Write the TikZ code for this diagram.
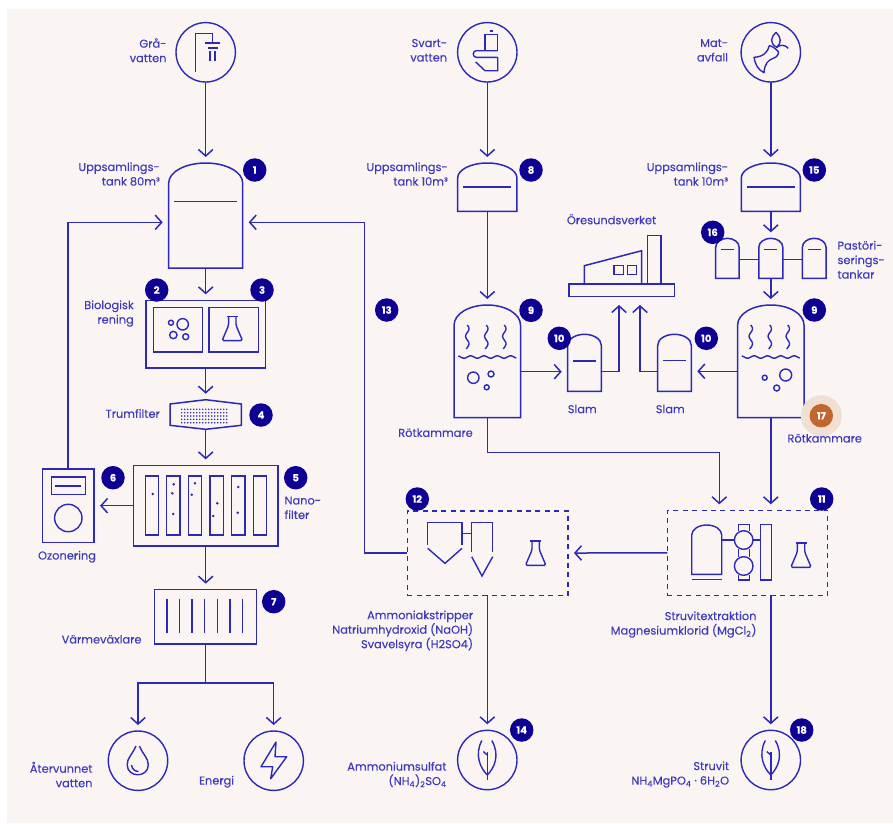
\documentclass[tikz,border=0pt]{standalone}
\usepackage{fontspec}
\setmainfont{Poppins}[FakeBold=0.12]
\usetikzlibrary{arrows.meta,positioning,calc}
\definecolor{MainLine}{RGB}{44,40,184}
\definecolor{MainText}{RGB}{62,58,188}
\definecolor{Navy}{RGB}{14,0,146}
\definecolor{Rust}{RGB}{193,102,46}
\definecolor{RustPale}{RGB}{240,223,211}
\definecolor{Paper}{RGB}{250,245,243}
\tikzset{
  unit/.style={draw=MainLine,line width=1.5pt,inner sep=0,outer sep=0},
  hold/.style={inner sep=0,outer sep=0},
  ring/.style={unit,circle,minimum size=59.4pt,line width=1.4pt},
  dashbox/.style={unit,dash pattern=on 5pt off 4.4pt},
  link/.style={draw=MainLine,line width=1.5pt},
  flow/.style={link,-{Straight Barb[length=6.5pt,width=14.5pt,line width=1.5pt]},shorten >=6pt},
  icon/.style={draw=MainLine,line width=1.4pt},
  badge/.style={circle,fill=Navy,text=white,minimum size=23.5pt,inner sep=0,
    font=\fontsize{10}{10}\selectfont\bfseries},
  lbl/.style={text=MainText,inner sep=0,font=\fontsize{11.4}{14.5}\selectfont},
  lblr/.style={lbl,anchor=east,align=right},
  lbll/.style={lbl,anchor=west,align=left},
  flask/.pic={
    \draw[icon,line join=round] (-5.5,-12) -- (5.5,-12);
    \draw[icon,line join=round,rounded corners=1.5pt] (-3.7,-12) -- (-3.7,-3) -- (-10.2,12.3) -- (10.2,12.3) -- (3.7,-3) -- (3.7,-12);
  },
  leaf/.pic={
    \draw[icon] (0,-8) -- (0,20);
    \draw[icon] (-5.5,-19.5) .. controls (-13,-5) and (-7,8) .. (0,15);
    \draw[icon] (4.5,-19.5) .. controls (13,-5) and (7,8) .. (0,15);
    \draw[icon] (-4,-8.5) -- (0,-5);
  },
}
% name, centre x, top, width, height, dome, level y (in from the top)
\newcommand{\tank}[7]{
  \node[hold,minimum width=#4pt,minimum height=#5pt] (#1) at (#2,{#3+#5/2}) {};
  \draw[icon,line width=1.5pt] ($(#1.north west)+(0,#6)$) arc[start angle=180,end angle=360,x radius={#4/2},y radius=#6]
    -- (#1.south east) -- (#1.south west) -- cycle;
  \draw[icon] ($(#1.north west)+(5.5,#7)$) -- ($(#1.north east)+(-5.5,#7)$);
}
% name, centre x, top
\newcommand{\digester}[3]{
  \node[hold,minimum width=66.4pt,minimum height=112.5pt] (#1) at (#2,{#3+56.25}) {};
  \draw[icon,line width=1.5pt] ($(#1.north west)+(0,20)$) arc[start angle=180,end angle=360,x radius=33.2,y radius=20]
    -- (#1.south east) -- (#1.south west) -- cycle;
  \foreach \wx in {-20,-1,17}
    \draw[icon,domain=0:24,samples=25,smooth] plot ({#2+\wx+1.7*sin(\x*24)},{#3+20+\x});
  \draw[icon,domain=-29:29,samples=50,smooth] plot ({#2+\x},{#3+52+1.2*sin(\x*27)});
}
\begin{document}
\begin{tikzpicture}[x=1pt,y=-1pt]
  \useasboundingbox (0,0) rectangle (893,823);
  \fill[white] (0,0) rectangle (893,823);
  \fill[Paper] (7,9) rectangle (893,823);

  % left column
  \node[ring] (grey) at (205.7,52.3) {};
  \draw[icon] (195.7,71.7) -- (195.7,33.3) -- (212.7,33.3) -- (212.7,42.7);
  \draw[icon,line width=1.6pt] (205,42.7) -- (220.3,42.7);
  \draw[icon,line width=1.6pt] (207.5,48) -- (217.5,48);
  \draw[icon] (210,51) -- (210,61) (215,51) -- (215,61);
  \tank{collect}{205.7}{163}{74}{105}{20}{38.7}
  \coordinate (collectL) at (168.7,222.3);
  \coordinate (collectR) at (242.7,222.3);

  \node[unit,minimum width=119.7pt,minimum height=67.7pt] (bio) at (205.7,334.2) {};
  \node[unit,minimum width=49pt,minimum height=44.7pt] (bioA) at (178.2,329.7) {};
  \node[unit,minimum width=49.3pt,minimum height=44.7pt] (bioB) at (233.6,329.7) {};
  \draw[icon] (182.7,324.3) circle (5.7) (171,322.7) circle (2.5) (173.3,335) circle (3.7) (185.7,336.7) circle (3);
  \pic at (232.3,328.3) {flask};

  \node[hold,minimum width=71.3pt,minimum height=29.6pt] (drum) at (205.7,414.5) {};
  \draw[icon,line width=1.5pt] (170,404) -- (205.7,399.7) -- (241.3,404) -- (241.3,425.3) -- (205.7,429.3) -- (170,425.3) -- cycle;
  \foreach \i in {0,...,15}
    \foreach \j in {0,...,4}
      \fill[MainLine] ({181.7+\i*3},{409.3+\j*3.35}) circle (0.85);

  \node[unit,minimum width=144.6pt,minimum height=80.7pt] (nano) at (205.7,505.7) {};
  \foreach \sx in {145.3,166.7,188.3,210,231.7,253.3}
    \draw[icon] (\sx,476) rectangle ++(13.3,59);
  \foreach \dx/\dy in {152.7/494,173.7/484.3,172.3/493.3,173.3/514,195/483.3,191.7/494.7,217.3/503.3,213.3/516,238.3/487,237.7/512.7}
    \fill[MainLine] (\dx,\dy) circle (1.4);

  \node[unit,minimum width=51.7pt,minimum height=73.7pt] (ozone) at (68.2,505.7) {};
  \draw[icon] (51.3,477) rectangle (85.3,494.7);
  \draw[icon] (55,486) -- (80.7,486);
  \draw[icon] (68.3,518) circle (13.7);

  \node[unit,minimum width=102pt,minimum height=54.3pt] (heat) at (205.7,616.8) {};
  \foreach \hx in {167,179.7,192,204.7,217.3,230,242.7}
    \draw[icon] (\hx,599.3) -- (\hx,633.3);
  \coordinate (heatSplit) at (205.7,683);

  \node[ring] (water) at (138,760.7) {};
  \draw[icon] (136,746) .. controls (132,755) and (127,758) .. (127.2,765) .. controls (127.5,778) and (148,778) .. (148.3,765) .. controls (148.5,758) and (143,755) .. (139.5,746);
  \draw[icon] (131.5,765) .. controls (132,769) and (135,771.5) .. (138.5,771.5);
  \node[ring] (energy) at (273.7,760.7) {};
  \draw[icon,line join=round] (276,742) -- (261,766.7) -- (272.7,766.7) -- (270.7,778.7) -- (286.7,756.7) -- (275,756.7) -- cycle;

  % middle column
  \node[ring] (black) at (487.3,52.3) {};
  \draw[icon] (485,50.7) -- (485,34.3) -- (497.7,34.3) -- (497.7,50.7);
  \draw[icon] (489.5,31) -- (493.3,31);
  \draw[icon,rounded corners=3pt] (497.7,50.7) -- (473.3,50.7) -- (473.3,57.3) -- (497.7,57.3);
  \draw[icon] (497.7,57.3) -- (497.7,70.7) -- (485,70.7) -- (475.7,62);
  \tank{collectB}{487.3}{163}{59.3}{48.3}{15}{24}
  \digester{digestB}{487.3}{305}
  \draw[icon] (473.3,377.7) circle (5.7) (491,374) circle (3) (486.7,387.3) circle (2.5);
  \tank{sludgeB}{584.5}{334.3}{33.6}{57}{11}{26.7}
  \coordinate (digestBout) at (520.5,371.7);
  \coordinate (sludgeBin) at (567.7,371.7);
  \coordinate (sludgeBout) at (601.3,371.7);

  \node[unit,minimum width=105.3pt,minimum height=12.7pt] (plant) at (621.7,290.3) {};
  \draw[icon,line width=1.5pt] (584.3,284) -- (584.3,265.7) -- (641.7,250.7) -- (641.7,284);
  \draw[icon] (614,265.7) rectangle (623.3,274.7) (627.3,265.7) rectangle (636.7,274.7);
  \draw[icon,line width=1.5pt] (647.3,284) -- (647.3,235.3) -- (661,235.3) -- (661,284);
  \coordinate (plantL) at (619,299);
  \coordinate (plantR) at (640,299);

  % right column
  \node[ring] (food) at (770.8,52.3) {};
  \draw[icon,line join=round] (769.3,45.7) .. controls (768,52) and (763,57) .. (754,57.3) .. controls (755,64) and (758,70) .. (764,72.7) .. controls (764.5,64) and (768,60) .. (773.3,58.3) .. controls (777,57) and (779,54) .. (778.3,51.7) .. controls (775,48) and (772,46) .. cycle;
  \draw[icon] (776,32.3) .. controls (771,37) and (769,43) .. (776.7,47.3) .. controls (782,43) and (781,37) .. (776,32.3);
  \draw[icon] (776.7,47.3) .. controls (780,44.5) and (785,44.5) .. (788.3,48.3);
  \tank{collectC}{770.8}{163}{59}{48.3}{15}{24}
  \tank{pastA}{727.4}{238.3}{23.4}{40}{9}{11.4}
  \tank{pastB}{770.8}{238.3}{24}{40}{9}{11.4}
  \tank{pastC}{814.2}{238.3}{23.7}{40}{9}{11.4}
  \coordinate (pastAm) at (739.1,259.3);
  \coordinate (pastBl) at (758.8,259.3);
  \coordinate (pastBr) at (782.8,259.3);
  \coordinate (pastCm) at (802.3,259.3);
  \draw[link] (pastAm) -- (pastBl) (pastBr) -- (pastCm);
  \digester{digestC}{770.8}{305}
  \draw[icon] (785.7,375) circle (6) (764.7,377.7) circle (2.5) (776.7,388) circle (3);
  \tank{sludgeC}{674.5}{334.3}{33.6}{57}{11}{26.4}
  \coordinate (digestCout) at (737.6,371.3);
  \coordinate (sludgeCin) at (691.3,371.3);
  \coordinate (sludgeCout) at (657.7,371.3);

  % extraction units
  \node[dashbox,minimum width=160.7pt,minimum height=84.3pt] (strip) at (487.6,553.1) {};
  \draw[icon] (427.7,545) -- (427.7,522.3) -- (462,522.3) -- (462,545);
  \draw[icon] (427.7,548.3) -- (445,563.3) -- (462,548.3);
  \draw[icon] (462,533.3) -- (471.7,533.3);
  \draw[icon] (471.7,551.7) -- (471.7,522.3) -- (492.7,522.3) -- (492.7,551.7);
  \draw[icon] (471.7,556.7) -- (482,576) -- (492.7,556.7);
  \pic at (535.7,553) {flask};
  \coordinate (stripBend) at (364.7,222.3);

  \node[dashbox,minimum width=160.4pt,minimum height=85pt] (extract) at (747.5,552.8) {};
  \draw[icon] (691.7,574.3) -- (691.7,535) arc[start angle=180,end angle=360,x radius=15,y radius=10] -- (721.7,574.3) -- cycle;
  \draw[icon] (691.7,579.3) -- (721.7,579.3);
  \draw[icon] (721.7,540) -- (734.4,540);
  \draw[icon] (738.3,531) -- (738.3,524.3) -- (749.3,524.3) -- (749.3,531);
  \draw[icon] (738.3,549) -- (738.3,557) (749.3,549) -- (749.3,557);
  \draw[icon] (738.3,575) -- (738.3,580) -- (749.3,580) -- (749.3,575);
  \draw[icon] (743.7,540) circle (9.3) (743.7,566) circle (9.3);
  \draw[icon] (753,540) -- (760.7,540);
  \draw[icon] (760.7,524.3) rectangle (771.7,580);
  \pic at (801,555) {flask};
  \coordinate (extractTopA) at (719.3,510.3);
  \coordinate (extractTopB) at (770.8,510.3);
  \coordinate (extractLow) at (770.8,595.3);
  \coordinate (stripLow) at (487.3,595.3);
  \coordinate (digestBjoin) at (719.3,452.3);

  \node[ring] (ammon) at (487.3,760) {};
  \pic at (487.3,760) {leaf};
  \node[ring] (struv) at (770.8,760) {};
  \pic at (770.8,760) {leaf};

  % connectors
  \draw[flow] (grey) -- (collect);
  \draw[flow] (collect) -- (bio);
  \draw[flow] (bio) -- (drum);
  \draw[flow] (drum.south) -- (nano);
  \draw[flow] (nano) -- (ozone);
  \draw[flow] (ozone.north) |- (collectL);
  \draw[flow] (nano) -- (heat);
  \draw[link] (heat) -- (heatSplit);
  \draw[flow] (heatSplit) -| (water);
  \draw[flow] (heatSplit) -| (energy);
  \draw[flow] (black) -- (collectB);
  \draw[flow] (collectB) -- (digestB);
  \draw[flow] (digestBout) -- (sludgeBin);
  \draw[flow] (sludgeBout) -| (plantL);
  \draw[flow] (sludgeCout) -| (plantR);
  \draw[flow] (food) -- (collectC);
  \draw[flow] (collectC) -- (pastB);
  \draw[flow] (pastB) -- (digestC);
  \draw[flow] (digestCout) -- (sludgeCin);
  \draw[flow] (digestB.south) |- (digestBjoin) -- (extractTopA);
  \draw[flow] (digestC) -- (extractTopB);
  \draw[flow] (extract) -- (strip);
  \draw[flow] (strip.west) -| (stripBend) -- (collectR);
  \draw[flow] (stripLow) -- (ammon);
  \draw[flow] (extractLow) -- (struv);

  % numbers
  \node[badge] (n1) at (254.7,170) {1};
  \node[badge] (n2) at (156.7,290) {2};
  \node[badge] (n3) at (262,290) {3};
  \node[badge] (n4) at (261,415) {4};
  \node[badge] (n5) at (295.7,477.7) {5};
  \node[badge] (n6) at (113,477.7) {6};
  \node[badge] (n7) at (273.7,601.7) {7};
  \node[badge] (n8) at (531,170) {8};
  \node[badge] (n9) at (531,310.3) {9};
  \node[badge] (n9b) at (814.3,310) {9};
  \node[badge] (n10) at (559.3,338.3) {10};
  \node[badge] (n10b) at (706.3,338.3) {10};
  \node[badge] (n11) at (821.7,499) {11};
  \node[badge] (n12) at (417.3,499) {12};
  \node[badge] (n13) at (386.7,310) {13};
  \node[badge] (n14) at (521.7,730) {14};
  \node[badge] (n15) at (814.3,170) {15};
  \node[badge] (n16) at (712.7,232.3) {16};
  \fill[RustPale] (821.3,415.7) circle (20.5);
  \node[badge,fill=Rust] (n17) at (821.3,415.7) {17};
  \node[badge] (n18) at (801.7,730) {18};

  % labels
  \node[lblr] (tGrey) at (166.7,50.3) {Grå-\\vatten};
  \node[lblr] (tCollect) at (160,174) {Uppsamlings-\\tank 80m³};
  \node[lblr] (tBio) at (134,313.5) {Biologisk\\rening};
  \node[lblr] (tDrum) at (160,413.5) {Trumfilter};
  \node[lbll] (tNano) at (284.3,507.8) {Nano-\\filter};
  \node[lbl] (tOzone) at (67,556.7) {Ozonering};
  \node[lblr] (tHeat) at (141.7,639.3) {Värmeväxlare};
  \node[lblr] (tWater) at (92.7,774.5) {Återvunnet\\vatten};
  \node[lblr] (tEnergy) at (234.3,781.7) {Energi};
  \node[lblr] (tBlack) at (447.3,50.3) {Svart-\\vatten};
  \node[lblr] (tCollectB) at (448,174) {Uppsamlings-\\tank 10m³};
  \node[lbl,anchor=west] (tPlant) at (566.7,219.3) {Öresundsverket};
  \node[lbl] (tSludgeB) at (582.3,409) {Slam};
  \node[lbl] (tSludgeC) at (670.3,409) {Slam};
  \node[lbl] (tDigestB) at (435.5,432.7) {Rötkammare};
  \node[lbl] (tDigestC) at (824.7,438.3) {Rötkammare};
  \node[lblr] (tFood) at (728.3,50.3) {Mat-\\avfall};
  \node[lblr] (tCollectC) at (728.3,174) {Uppsamlings-\\tank 10m³};
  \node[lbll] (tPast) at (837.3,259.8) {Pastöri-\\serings-\\tankar};
  \node[lblr] (tStrip) at (473.3,630.8) {Ammoniakstripper\\Natriumhydroxid (NaOH)\\Svavelsyra (H2SO4)};
  \node[lblr] (tExtract) at (756.7,624.5) {Struvitextraktion\\Magnesiumklorid (MgCl\textsubscript{2})};
  \node[lblr] (tAmmon) at (446.7,774.5) {Ammoniumsulfat\\(NH\textsubscript{4})\textsubscript{2}SO\textsubscript{4}};
  \node[lblr] (tStruv) at (729.3,774.5) {Struvit\\NH\textsubscript{4}MgPO\textsubscript{4} · 6H\textsubscript{2}O};
\end{tikzpicture}
\end{document}
